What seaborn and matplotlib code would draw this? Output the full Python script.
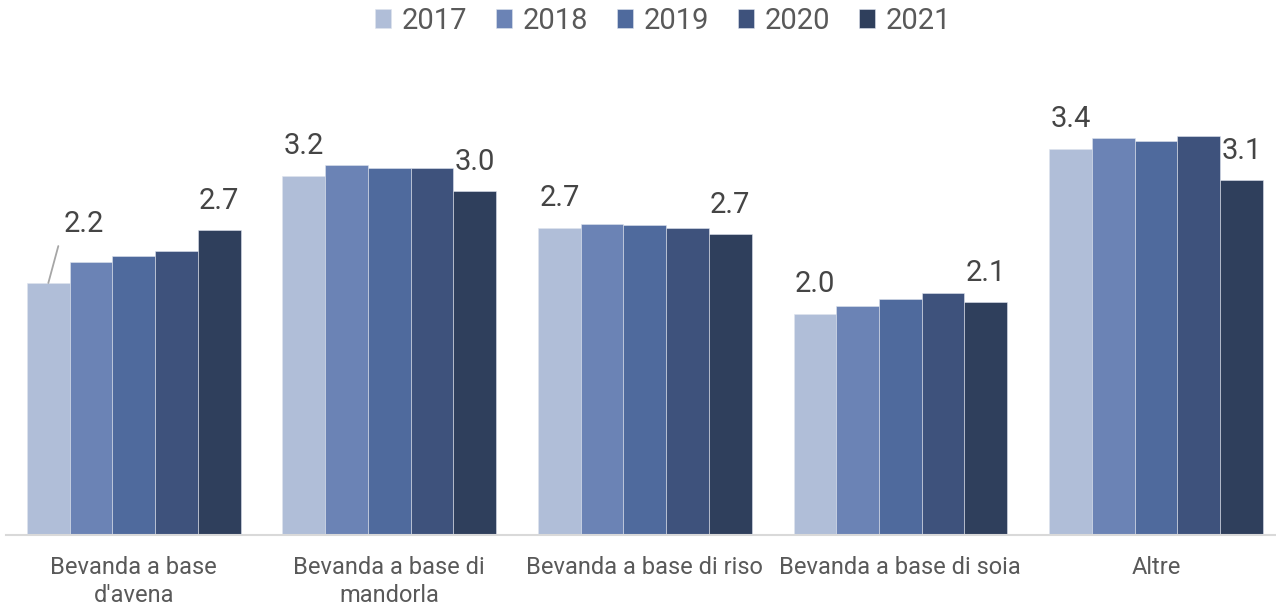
import matplotlib
matplotlib.use("Agg")
import matplotlib.pyplot as plt
import seaborn as sns
import pandas as pd

categories = ["Bevanda a base\nd'avena", "Bevanda a base di\nmandorla",
              "Bevanda a base di riso", "Bevanda a base di soia", "Altre"]
years = ["2017", "2018", "2019", "2020", "2021"]
v2017 = [2.23, 3.18, 2.72, 1.96, 3.42]
v2018 = [2.42, 3.27, 2.75, 2.03, 3.51]
v2019 = [2.47, 3.25, 2.74, 2.09, 3.49]
v2020 = [2.51, 3.25, 2.72, 2.14, 3.53]
v2021 = [2.70, 3.04, 2.66, 2.06, 3.14]
colors = ["#b0bed8", "#6b83b5", "#4f6a9d", "#3e527c", "#2f3f5c"]

series = [v2017, v2018, v2019, v2020, v2021]
rows = []
for y, vals in zip(years, series):
    for c, v in zip(categories, vals):
        rows.append({"cat": c, "year": y, "val": v})
df = pd.DataFrame(rows)

sns.set_theme(style="white")
plt.rcParams["font.family"] = ["Roboto", "DejaVu Sans"]

fig = plt.figure(figsize=(12.76, 6.06), dpi=100)
ax = fig.add_axes([6 / 1276, 71 / 606, 1270 / 1276, 0.75])

sns.barplot(data=df, x="cat", y="val", hue="year", order=categories,
            hue_order=years, palette=colors, saturation=1, width=0.836,
            gap=0, edgecolor="#dfe4ee", linewidth=0.4, ax=ax)

ax.set_xlim(-0.5, 4.47)
ax.set_ylim(0, 0.75 * 606 / 113)
ax.set_xlabel("")
ax.set_ylabel("")
ax.set_yticks([])
for s in ["top", "right", "left"]:
    ax.spines[s].set_visible(False)
ax.spines["bottom"].set_color("#d9d9d9")
ax.spines["bottom"].set_linewidth(1.5)
ax.tick_params(axis="x", length=0, pad=15, labelsize=17, labelcolor="#595959")
for t in ax.get_xticklabels():
    t.set_linespacing(1.3)

label_color = "#454545"
for ci in (0, 4):
    cont = ax.containers[ci]
    for i, bar in enumerate(cont):
        x = bar.get_x() + bar.get_width() / 2
        h = bar.get_height()
        txt = f"{h:.1f}"
        if ci == 0 and i == 0:
            ax.annotate("", xy=(x, h), xytext=(7.2, 26.6), textcoords="offset points",
                        arrowprops=dict(arrowstyle="-", color="#a6a6a6", lw=1.3,
                                        shrinkA=0, shrinkB=0))
            ax.annotate(txt, xy=(x, h), xytext=(25.5, 42.5), textcoords="offset points",
                        ha="center", va="center", fontsize=21, color=label_color)
        else:
            ax.annotate(txt, xy=(x, h), xytext=(0, 21), textcoords="offset points",
                        ha="center", va="center", fontsize=21, color=label_color)

leg = ax.legend(loc="center", bbox_to_anchor=(663 / 1276, 1 - 21 / 606),
                bbox_transform=fig.transFigure, ncol=5, frameon=False,
                fontsize=21, handlelength=0.55, handleheight=0.62,
                handletextpad=0.35, columnspacing=1.0, borderaxespad=0)
for t in leg.get_texts():
    t.set_color("#595959")

fig.savefig("out.png", dpi=100)
